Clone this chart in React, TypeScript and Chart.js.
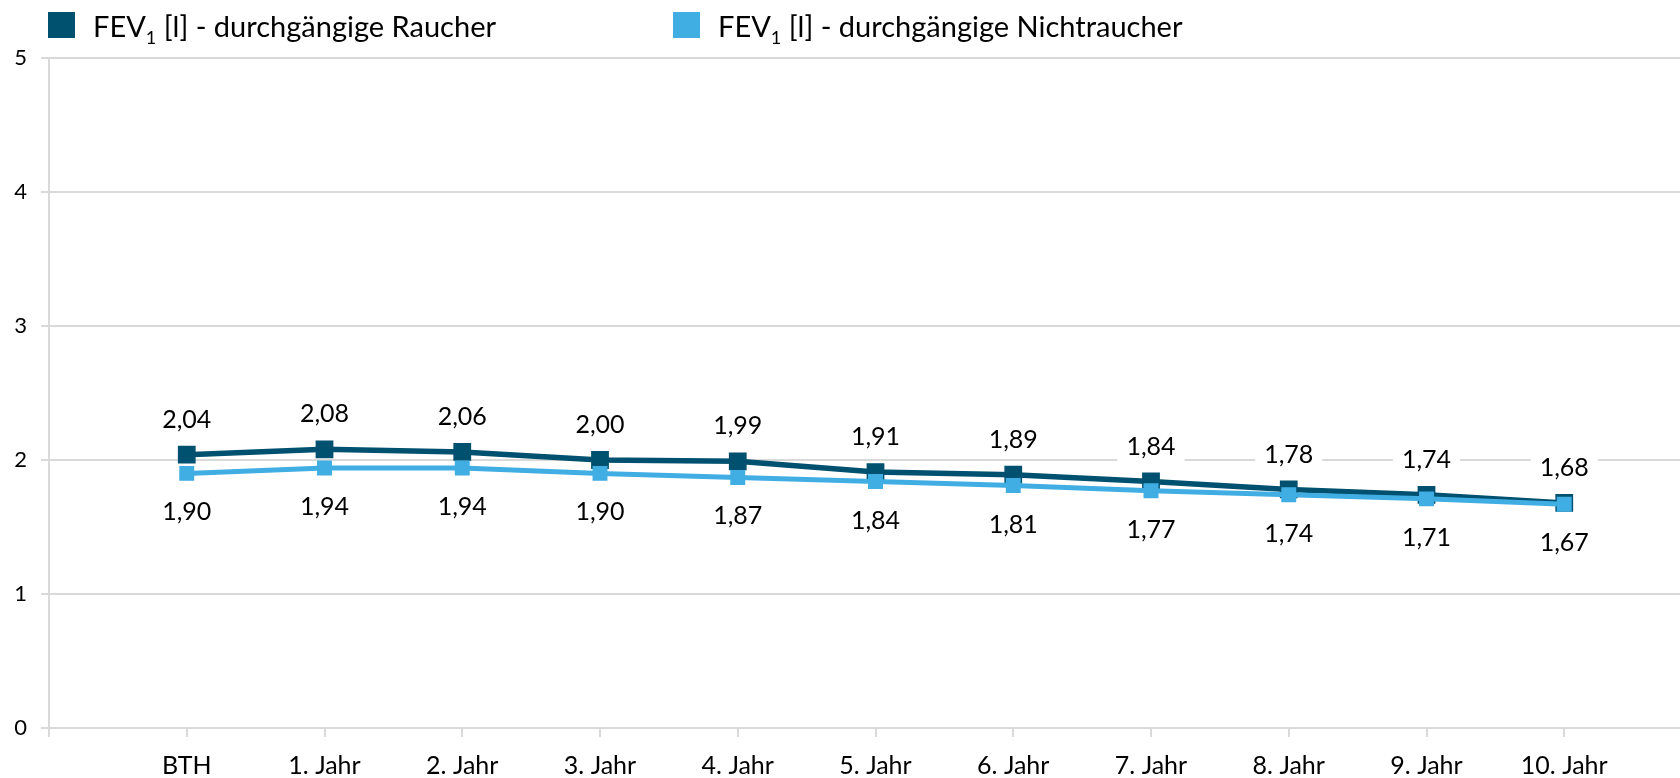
import React, { useEffect, useRef } from 'react';
import { Chart, registerables } from 'chart.js';

Chart.register(...registerables);

const categories = ['BTH', '1. Jahr', '2. Jahr', '3. Jahr', '4. Jahr', '5. Jahr', '6. Jahr', '7. Jahr', '8. Jahr', '9. Jahr', '10. Jahr'];
const raucher = [2.04, 2.08, 2.06, 2.0, 1.99, 1.91, 1.89, 1.84, 1.78, 1.74, 1.68];
const nichtraucher = [1.9, 1.94, 1.94, 1.9, 1.87, 1.84, 1.81, 1.77, 1.74, 1.71, 1.67];
const seriesBase = 'FEV';
const seriesSuffix = [' [l] - durchgängige Raucher', ' [l] - durchgängige Nichtraucher'];
const seriesColors = ['#00506f', '#41aee3'];
const yMin = 0;
const yMax = 5;

const FONT = 'Lato, "Open Sans", sans-serif';

const valueLabelPlugin = {
  id: 'valueLabels',
  afterDatasetsDraw(chart: any) {
    const ctx = chart.ctx;
    ctx.save();
    ctx.font = '25px ' + FONT;
    ctx.textAlign = 'center';
    ctx.textBaseline = 'middle';
    chart.data.datasets.forEach((ds: any, di: number) => {
      const meta = chart.getDatasetMeta(di);
      meta.data.forEach((pt: any, i: number) => {
        const v = ds.data[i].y;
        const text = v.toFixed(2).replace('.', ',');
        const y = pt.y + ds.labelOffset;
        const w = ctx.measureText(text).width + 18;
        ctx.fillStyle = '#ffffff';
        ctx.fillRect(pt.x - w / 2, y - 16, w, 32);
        ctx.fillStyle = '#000000';
        ctx.fillText(text, pt.x, y + 1);
      });
    });
    ctx.restore();
  },
};

export default function App() {
  const canvasRef = useRef<HTMLCanvasElement | null>(null);

  useEffect(() => {
    document.body.style.margin = '0';
    document.body.style.overflow = 'hidden';
    const canvas = canvasRef.current;
    if (!canvas) return;
    const chart = new Chart(canvas, {
      type: 'line',
      data: {
        datasets: [
          {
            label: seriesBase + '1' + seriesSuffix[0],
            data: raucher.map((v, i) => ({ x: i, y: v })),
            borderColor: seriesColors[0],
            backgroundColor: seriesColors[0],
            pointBackgroundColor: seriesColors[0],
            pointBorderColor: seriesColors[0],
            borderWidth: 5.5,
            pointStyle: 'rect',
            pointRadius: 11.5,
            pointBorderWidth: 1.5,
            tension: 0,
            order: 1,
            labelOffset: -36,
          } as any,
          {
            label: seriesBase + '1' + seriesSuffix[1],
            data: nichtraucher.map((v, i) => ({ x: i, y: v })),
            borderColor: seriesColors[1],
            backgroundColor: seriesColors[1],
            pointBackgroundColor: seriesColors[1],
            pointBorderColor: seriesColors[1],
            borderWidth: 5,
            pointStyle: 'rect',
            pointRadius: 9.5,
            pointBorderWidth: 1.5,
            tension: 0,
            order: 0,
            labelOffset: 38,
          } as any,
        ],
      },
      options: {
        responsive: false,
        animation: false,
        devicePixelRatio: 1,
        layout: { padding: { top: 58, left: 0, right: 0, bottom: 0 } },
        plugins: {
          legend: { display: false },
          tooltip: { enabled: false },
        },
        scales: {
          x: {
            type: 'linear',
            min: -1,
            max: 11,
            afterFit: (scale: any) => {
              scale.height = 72;
            },
            ticks: {
              stepSize: 1,
              autoSkip: false,
              maxRotation: 0,
              padding: 14,
              color: '#000000',
              font: { family: FONT, size: 25 },
              callback: (v: any) => categories[v as number] ?? '',
            },
            grid: {
              display: true,
              drawOnChartArea: false,
              drawTicks: true,
              tickLength: 9,
              color: '#d9d9d9',
              lineWidth: 2,
            },
            border: { display: true, color: '#d9d9d9', width: 2 },
          },
          y: {
            min: yMin,
            max: yMax,
            afterFit: (scale: any) => {
              scale.width = 49;
            },
            ticks: {
              stepSize: 1,
              padding: 14,
              color: '#000000',
              font: { family: FONT, size: 22 },
            },
            grid: {
              color: '#d9d9d9',
              lineWidth: 2,
              drawTicks: true,
              tickLength: 8,
            },
            border: { display: true, color: '#d9d9d9', width: 2 },
          },
        },
      } as any,
      plugins: [valueLabelPlugin],
    });
    return () => chart.destroy();
  }, []);

  const legendText = (i: number) => (
    <span>
      {seriesBase}
      <sub style={{ fontSize: '18px', verticalAlign: 'baseline', position: 'relative', top: '7px' }}>1</sub>
      {seriesSuffix[i]}
    </span>
  );

  return (
    <div style={{ position: 'fixed', left: 0, top: 0, width: 1680, height: 778, overflow: 'hidden', background: '#fff' }}>
      <canvas ref={canvasRef} width={1716} height={800} style={{ position: 'absolute', left: 0, top: 0, width: 1716, height: 800 }} />
      {[0, 1].map((i) => (
        <div
          key={i}
          style={{
            position: 'absolute',
            left: i === 0 ? 48 : 673,
            top: 5,
            height: 40,
            display: 'flex',
            alignItems: 'center',
            fontFamily: FONT,
            fontSize: 29,
            color: '#000',
            whiteSpace: 'nowrap',
          }}
        >
          <span style={{ display: 'inline-block', width: 27, height: 26, background: seriesColors[i], marginRight: 18 }} />
          {legendText(i)}
        </div>
      ))}
    </div>
  );
}
